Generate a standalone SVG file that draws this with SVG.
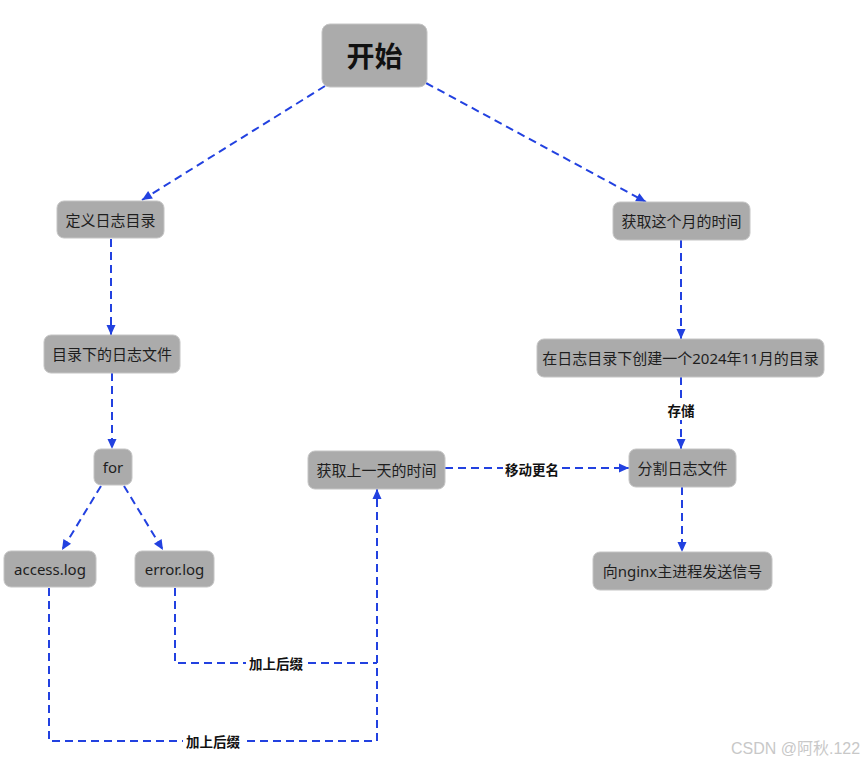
<svg xmlns="http://www.w3.org/2000/svg" width="865" height="763" viewBox="0 0 865 763">
<style>
.box{fill:#ababab;stroke:#c4c4c4;stroke-width:1}
.t{font-family:"Noto Sans","Noto Sans CJK SC",sans-serif;font-size:15px;fill:#1e1e1e;text-anchor:middle;dominant-baseline:central}
.big{font-size:28px;font-weight:bold;fill:#111}
.c{fill:none;stroke:#2241e0;stroke-width:2;stroke-dasharray:8 5}
.lbl{font-family:"Noto Sans CJK SC","Noto Sans",sans-serif;font-size:13.5px;font-weight:bold;fill:#111;text-anchor:middle;dominant-baseline:central}
.lb{fill:#fff}
.wm{font-family:"Liberation Sans","Noto Sans CJK SC",sans-serif;font-size:16px;fill:#c8c8c8}
</style>
<defs>
<marker id="ah" markerUnits="userSpaceOnUse" markerWidth="12" markerHeight="12" viewBox="0 0 12 12" refX="11" refY="6" orient="auto">
<path d="M1,1.5 L11,6 L1,10.5 Z" fill="#2241e0"/>
</marker>
</defs>
<rect width="865" height="763" fill="#fff"/>
<g id="connectors">
<path class="c" d="M325,86 L142,200" marker-end="url(#ah)"/>
<path class="c" d="M426,83 L646,202" marker-end="url(#ah)"/>
<path class="c" d="M111,239 L111,335" marker-end="url(#ah)"/>
<path class="c" d="M112,373 L112,449" marker-end="url(#ah)"/>
<path class="c" d="M101,486 L62,550" marker-end="url(#ah)"/>
<path class="c" d="M124,486 L163,550" marker-end="url(#ah)"/>
<path class="c" d="M681,240 L681,339" marker-end="url(#ah)"/>
<path class="c" d="M681,377 L681,449" marker-end="url(#ah)"/>
<path class="c" d="M445,468 L629,468" marker-end="url(#ah)"/>
<path class="c" d="M682,487 L682,552" marker-end="url(#ah)"/>
<path class="c" d="M175,588 L175,663 L377,663"/>
<path class="c" d="M49,588 L49,741 L377,741 L377,489" marker-end="url(#ah)"/>
<rect class="lb" x="665" y="400" width="32" height="20"/>
<text class="lbl" x="681" y="410">存储</text>
<rect class="lb" x="503" y="459" width="58" height="20"/>
<text class="lbl" x="532" y="469">移动更名</text>
<rect class="lb" x="246" y="653" width="60" height="20"/>
<text class="lbl" x="276" y="663">加上后缀</text>
<rect class="lb" x="183" y="731" width="60" height="20"/>
<text class="lbl" x="213" y="741">加上后缀</text>
</g>
<g id="start"><rect class="box" x="322" y="24" width="105" height="63" rx="8"/><text class="t big" x="374.5" y="56">开始</text></g>
<g id="defdir"><rect class="box" x="57" y="201" width="107" height="37" rx="7"/><text class="t" x="110.5" y="219.5">定义日志目录</text></g>
<g id="files"><rect class="box" x="44" y="335" width="136" height="38" rx="7"/><text class="t" x="112" y="354">目录下的日志文件</text></g>
<g id="for"><rect class="box" x="94" y="449" width="38" height="36" rx="7"/><text class="t" x="113" y="467">for</text></g>
<g id="access"><rect class="box" x="4" y="551" width="92" height="36" rx="7"/><text class="t" x="50" y="569">access.log</text></g>
<g id="error"><rect class="box" x="135" y="551" width="79" height="36" rx="7"/><text class="t" x="174.5" y="569">error.log</text></g>
<g id="month"><rect class="box" x="613" y="202" width="137" height="38" rx="7"/><text class="t" x="681.5" y="221">获取这个月的时间</text></g>
<g id="mkdir"><rect class="box" x="537" y="339" width="287" height="38" rx="7"/><text class="t" x="680.5" y="358">在日志目录下创建一个2024年11月的目录</text></g>
<g id="yesterday"><rect class="box" x="308" y="451" width="137" height="38" rx="7"/><text class="t" x="376.5" y="470">获取上一天的时间</text></g>
<g id="split"><rect class="box" x="629" y="449" width="107" height="38" rx="7"/><text class="t" x="682.5" y="468">分割日志文件</text></g>
<g id="signal"><rect class="box" x="593" y="552" width="179" height="38" rx="7"/><text class="t" x="682.5" y="571">向nginx主进程发送信号</text></g>
<text class="wm" x="731" y="754">CSDN @阿秋.122</text>
</svg>
